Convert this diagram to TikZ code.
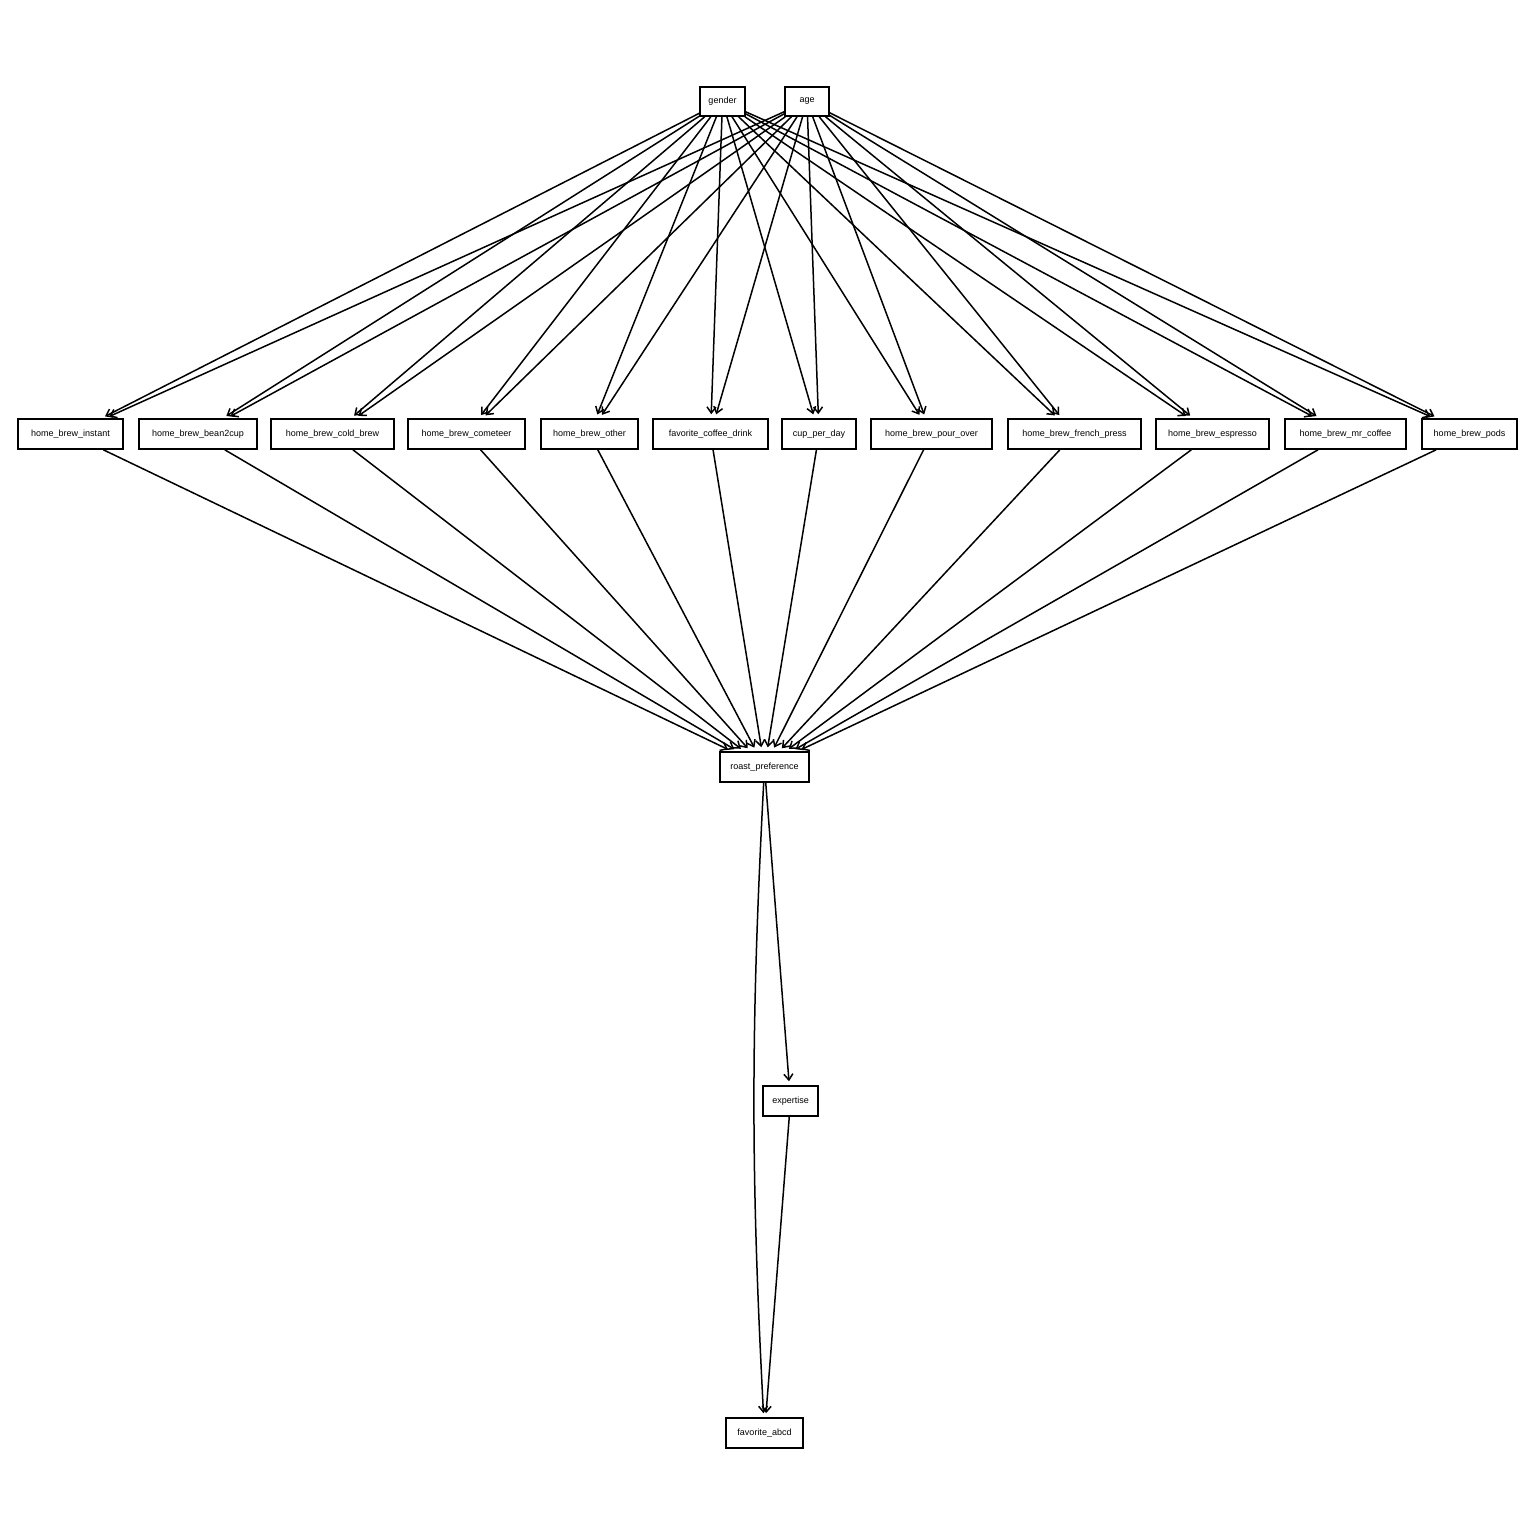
\documentclass[tikz,border=0pt]{standalone}
\usepackage{fontspec}
\setmainfont{Liberation Sans}
\usepackage{tikz}
\usetikzlibrary{arrows.meta, positioning}

\begin{document}
\begin{tikzpicture}[
    x=1pt, y=-1pt,
    font=\fontsize{9}{10}\selectfont,
    var/.style={draw, line width=1.6pt, minimum height=30pt, 
                inner sep=0pt, fill=white},
    arrow/.style={-{Straight Barb[length=6pt, width=9pt]}, line width=1.5pt, 
                  shorten >=4pt}
]
\useasboundingbox (0,0) rectangle (1536,1536);

% --- Background variables ---
\node[var, minimum width=45pt, minimum height=29pt] (gender) at (722.5,101.5) {gender};
\node[var, minimum width=44pt, minimum height=29pt] (age) at (807,101.5) {age};

% --- Home brewing / drinking habits ---
\node[var, minimum width=105pt] (instant) at (70.5,434) {home\_brew\_instant};
\node[var, minimum width=118pt] (bean2cup) at (198,434) {home\_brew\_bean2cup};
\node[var, minimum width=123pt] (coldbrew) at (332.5,434) {home\_brew\_cold\_brew};
\node[var, minimum width=117pt] (cometeer) at (466.5,434) {home\_brew\_cometeer};
\node[var, minimum width=97pt] (other) at (589.5,434) {home\_brew\_other};
\node[var, minimum width=115pt] (favdrink) at (710.5,434) {favorite\_coffee\_drink};
\node[var, minimum width=74pt] (cups) at (819,434) {cup\_per\_day};
\node[var, minimum width=121pt] (pourover) at (931.5,434) {home\_brew\_pour\_over};
\node[var, minimum width=133pt] (frenchpress) at (1074.5,434) {home\_brew\_french\_press};
\node[var, minimum width=113pt] (espresso) at (1212.5,434) {home\_brew\_espresso};
\node[var, minimum width=121pt] (mrcoffee) at (1345.5,434) {home\_brew\_mr\_coffee};
\node[var, minimum width=95pt] (pods) at (1469.5,434) {home\_brew\_pods};

% --- Outcomes ---
\node[var, minimum width=89pt] (roast) at (764.5,767) {roast\_preference};
\node[var, minimum width=55pt] (expertise) at (790.5,1101) {expertise};
\node[var, minimum width=77pt] (abcd) at (764.5,1433) {favorite\_abcd};

% --- gender -> habits ---
\draw[arrow] (gender) -- (instant);
\draw[arrow] (gender) -- (bean2cup);
\draw[arrow] (gender) -- (coldbrew);
\draw[arrow] (gender) -- (cometeer);
\draw[arrow] (gender) -- (other);
\draw[arrow] (gender) -- (favdrink);
\draw[arrow] (gender) -- (cups);
\draw[arrow] (gender) -- (pourover);
\draw[arrow] (gender) -- (frenchpress);
\draw[arrow] (gender) -- (espresso);
\draw[arrow] (gender) -- (mrcoffee);
\draw[arrow] (gender) -- (pods);

% --- age -> habits ---
\draw[arrow] (age) -- (instant);
\draw[arrow] (age) -- (bean2cup);
\draw[arrow] (age) -- (coldbrew);
\draw[arrow] (age) -- (cometeer);
\draw[arrow] (age) -- (other);
\draw[arrow] (age) -- (favdrink);
\draw[arrow] (age) -- (cups);
\draw[arrow] (age) -- (pourover);
\draw[arrow] (age) -- (frenchpress);
\draw[arrow] (age) -- (espresso);
\draw[arrow] (age) -- (mrcoffee);
\draw[arrow] (age) -- (pods);

% --- habits -> roast preference ---
\draw[arrow] (instant) -- (roast);
\draw[arrow] (bean2cup) -- (roast);
\draw[arrow] (coldbrew) -- (roast);
\draw[arrow] (cometeer) -- (roast);
\draw[arrow] (other) -- (roast);
\draw[arrow] (favdrink) -- (roast);
\draw[arrow] (cups) -- (roast);
\draw[arrow] (pourover) -- (roast);
\draw[arrow] (frenchpress) -- (roast);
\draw[arrow] (espresso) -- (roast);
\draw[arrow] (mrcoffee) -- (roast);
\draw[arrow] (pods) -- (roast);

% --- roast preference -> expertise -> favorite ---
\draw[arrow] (roast) -- (expertise);
\draw[arrow] (roast) to[bend right=3] (abcd);
\draw[arrow] (expertise) -- (abcd);

\end{tikzpicture}
\end{document}
